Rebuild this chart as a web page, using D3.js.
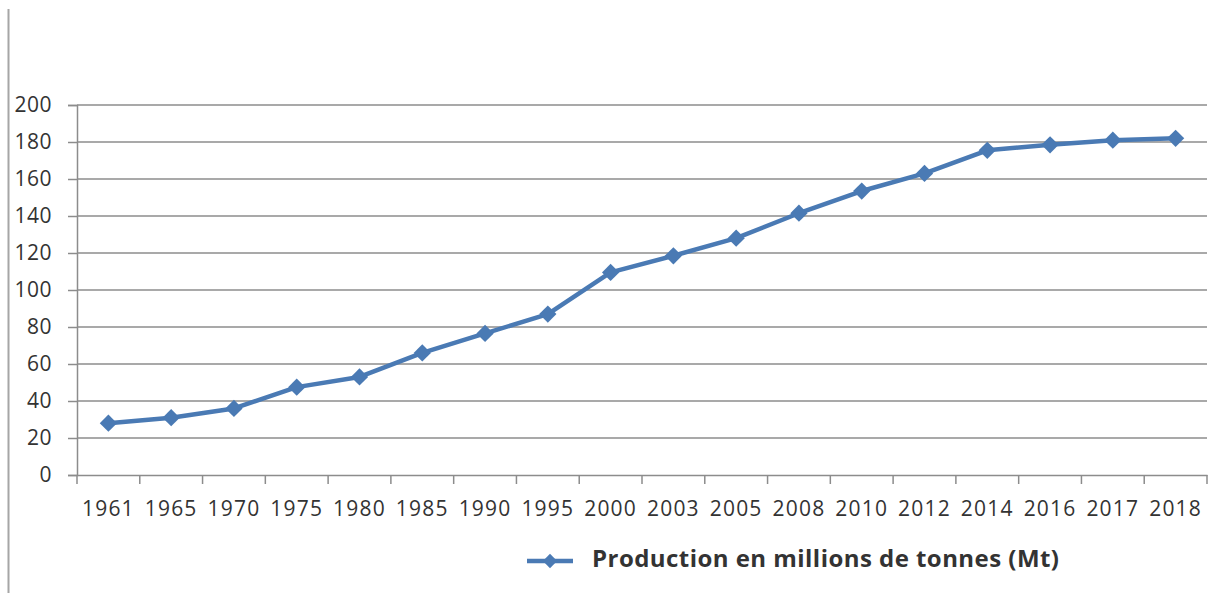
<!DOCTYPE html>
<html>
<head>
<meta charset="utf-8">
<script src="https://cdn.jsdelivr.net/npm/d3@7"></script>
<style>
  body { margin: 0; background: #fff; }
  svg text { font-family: "Open Sans", "Liberation Sans", sans-serif; fill: #333; }
</style>
</head>
<body>
<div id="container"></div>
<script>
const years = ["1961", "1965", "1970", "1975", "1980", "1985", "1990", "1995", "2000",
  "2003", "2005", "2008", "2010", "2012", "2014", "2016", "2017", "2018"];
const production = [28, 31, 36, 47.5, 53, 66, 76.5, 87, 109.5, 118.5, 128, 141.5, 153.5, 163, 175.5, 178.5, 181, 182];
const yTicks = [0, 20, 40, 60, 80, 100, 120, 140, 160, 180, 200];
const seriesName = "Production en millions de tonnes (Mt)";

const width = 1212;
const height = 593;
const blue = "#4a7ab4";
const grid = "#8c8c8c";

const svg = d3.select("#container")
  .append("svg")
  .attr("width", width)
  .attr("height", height);

// left frame edge
svg.append("line")
  .attr("x1", 8.5).attr("x2", 8.5)
  .attr("y1", 9).attr("y2", height)
  .attr("stroke", "#a6a6a6")
  .attr("stroke-width", 2);

const x = d3.scaleBand().domain(years).range([77, 1207]);
const y = d3.scaleLinear().domain([0, 200]).range([475, 105]);

// horizontal gridlines + y labels
const yAxis = svg.append("g")
  .attr("transform", "translate(77,0)")
  .call(d3.axisLeft(y).tickValues(yTicks).tickSize(9).tickPadding(16));
yAxis.select(".domain").attr("stroke", grid).attr("stroke-width", 1.5);
yAxis.selectAll(".tick line").attr("stroke", grid).attr("stroke-width", 1.5);
yAxis.selectAll(".tick text")
  .attr("font-size", 21)
  .attr("letter-spacing", 0.5)
  .attr("fill", "#333");

svg.append("g")
  .selectAll("line")
  .data(yTicks.filter(d => d > 0))
  .join("line")
  .attr("x1", 77).attr("x2", 1207)
  .attr("y1", d => y(d)).attr("y2", d => y(d))
  .attr("stroke", grid)
  .attr("stroke-width", 1.5);

// x axis
const xAxis = svg.append("g")
  .attr("transform", "translate(0,475)")
  .call(d3.axisBottom(x).tickSize(0).tickPadding(26));
xAxis.select(".domain").attr("stroke", grid).attr("stroke-width", 1.5);
xAxis.selectAll(".tick text")
  .attr("font-size", 21)
  .attr("letter-spacing", 1.2)
  .attr("fill", "#333");

// tick marks between categories
svg.append("g")
  .selectAll("line")
  .data(years.concat(["end"]))
  .join("line")
  .attr("x1", (d, i) => x.range()[0] + i * x.step())
  .attr("x2", (d, i) => x.range()[0] + i * x.step())
  .attr("y1", 475).attr("y2", 484)
  .attr("stroke", grid)
  .attr("stroke-width", 1.5);

// series line
const line = d3.line()
  .x((d, i) => x(years[i]) + x.bandwidth() / 2)
  .y(d => y(d));

svg.append("path")
  .datum(production)
  .attr("d", line)
  .attr("fill", "none")
  .attr("stroke", blue)
  .attr("stroke-width", 4.5)
  .attr("stroke-linejoin", "round");

const diamond = d3.symbol().type(d3.symbolDiamond2).size(190);

svg.append("g")
  .selectAll("path")
  .data(production)
  .join("path")
  .attr("d", diamond)
  .attr("transform", (d, i) => `translate(${x(years[i]) + x.bandwidth() / 2},${y(d)})`)
  .attr("fill", blue);

// legend
const legend = svg.append("g").attr("transform", "translate(527,561)");
legend.append("line")
  .attr("x1", 0).attr("x2", 46)
  .attr("stroke", blue)
  .attr("stroke-width", 4.5);
legend.append("path")
  .attr("d", d3.symbol().type(d3.symbolDiamond2).size(130))
  .attr("transform", "translate(23,0)")
  .attr("fill", blue);
legend.append("text")
  .attr("x", 65)
  .attr("y", 0)
  .attr("dy", "0.25em")
  .attr("font-size", 24)
  .attr("font-weight", "bold")
  .attr("fill", "#222")
  .attr("textLength", 467)
  .attr("lengthAdjust", "spacing")
  .text(seriesName);
</script>
</body>
</html>
